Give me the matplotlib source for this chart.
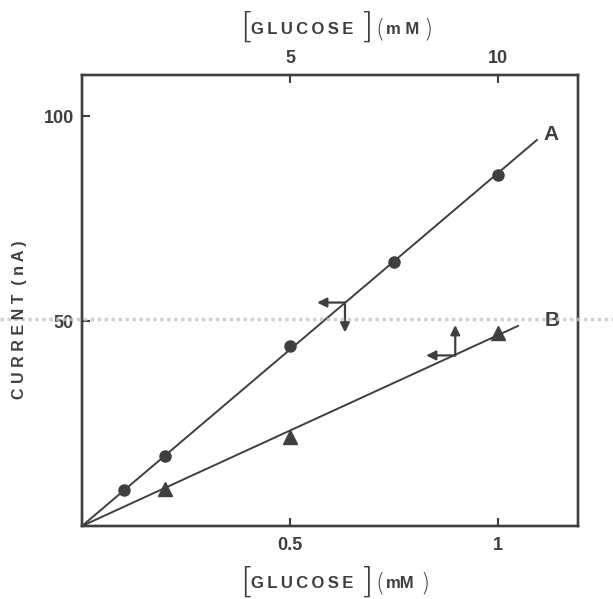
import matplotlib
matplotlib.use("Agg")
import matplotlib.pyplot as plt
from matplotlib.lines import Line2D

# ---- data ----
a_conc = [0.1, 0.2, 0.5, 0.75, 1.0]          # bottom axis, mM
a_current = [8.7, 17.1, 44.0, 64.5, 85.7]    # nA
a_fit_x = [0.0, 1.095]
a_fit_y = [0.0, 94.3]

b_conc = [2.0, 5.0, 10.0]                    # top axis, mM
b_current = [9.1, 21.6, 47.1]
b_fit_x = [0.0, 10.5]
b_fit_y = [0.0, 48.9]

bottom_ticks = [0.5, 1.0]
bottom_labels = ["0.5", "1"]
top_ticks = [5, 10]
top_labels = ["5", "10"]
y_ticks = [50, 100]
y_labels = ["50", "100"]

W, H = 613, 599
INK = "#3f3f3f"
FAM = ["Liberation Sans", "DejaVu Sans"]
fig = plt.figure(figsize=(W / 100, H / 100), dpi=100)
ax = fig.add_axes([82 / W, 1 - 526 / H, (578 - 82) / W, (526 - 75) / H])
ax.set_xlim(0, 1.192)
ax.set_ylim(0, 110)

ax_top = ax.twiny()
ax_top.set_xlim(0, 11.92)

# curve A (bottom axis)
ax.plot(a_fit_x, a_fit_y, color=INK, lw=1.4, solid_capstyle="butt")
ax.plot(a_conc, a_current, "o", color=INK, ms=8, mec=INK)
# curve B (top axis)
ax_top.plot(b_fit_x, b_fit_y, color=INK, lw=1.4, solid_capstyle="butt")
ax_top.plot(b_conc, b_current, "^", color=INK, ms=9.5, mec=INK)

for a in (ax, ax_top):
    for s in a.spines.values():
        s.set_linewidth(1.7)
        s.set_color(INK)

tick_font = dict(family=FAM, weight="bold", size=13)
ax.set_xticks(bottom_ticks)
ax.set_xticklabels(bottom_labels, **tick_font, color=INK)
ax.set_yticks(y_ticks)
ax.set_yticklabels(y_labels, **tick_font, color=INK)
ax.tick_params(direction="in", length=6, width=1.5, color=INK, pad=8)
ax.tick_params(axis="y", pad=6)
ax.tick_params(top=False, right=False)
ax_top.set_xticks(top_ticks)
ax_top.set_xticklabels(top_labels, **tick_font, color=INK)
ax_top.tick_params(direction="in", length=6, width=1.5, color=INK, pad=6)

# arrows indicating which axes each curve uses
arr = dict(arrowstyle="-|>", color=INK, lw=1.6, mutation_scale=14, shrinkA=0, shrinkB=0)
ax.annotate("", xy=(0.565, 54.5), xytext=(0.632, 54.5), arrowprops=arr)
ax.annotate("", xy=(0.632, 47.2), xytext=(0.632, 54.5), arrowprops=arr)
ax.annotate("", xy=(0.827, 41.6), xytext=(0.897, 41.6), arrowprops=arr)
ax.annotate("", xy=(0.897, 49.0), xytext=(0.897, 41.6), arrowprops=arr)

lab = dict(family=FAM, weight="bold", size=15, color=INK)
ax.text(1.128, 95.5, "A", ha="center", va="center", **lab)
ax.text(1.131, 50.2, "B", ha="center", va="center", **lab)

def px(x, y):
    return x / W, 1 - y / H

def glucose_label(y, mm_text, close_x):
    br = dict(family="DejaVu Sans", weight="light", size=25, color=INK, va="center", ha="left")
    pa = dict(family="DejaVu Sans", weight="light", size=17, color=INK, va="center", ha="left")
    tx = dict(family=FAM, weight="bold", size=12, color=INK, va="center", ha="left")
    fig.text(*px(240, y), "[", **br)
    fig.text(*px(251, y + 1), "G\u2009L\u2009U\u2009C\u2009O\u2009S\u2009E", **tx)
    fig.text(*px(359, y), "]", **br)
    fig.text(*px(375, y + 1), "(", **pa)
    fig.text(*px(386, y + 1), mm_text, **tx)
    fig.text(*px(close_x, y + 1), ")", **pa)

glucose_label(28, "m M", 423)
glucose_label(583, "mM", 420)

fig.text(*px(20, 320), "C U R R E N T  ( n A )", rotation=90, ha="center", va="center",
         family=FAM, weight="bold", size=11.5, color=INK)

# faint scan band across the page
fig.add_artist(Line2D([0, 1], [1 - 319 / H, 1 - 319 / H], transform=fig.transFigure,
                      color="#c4c4c4", lw=2.5, ls=(0, (1, 1)), alpha=0.8))

fig.savefig("out.png", dpi=100, facecolor="white")
